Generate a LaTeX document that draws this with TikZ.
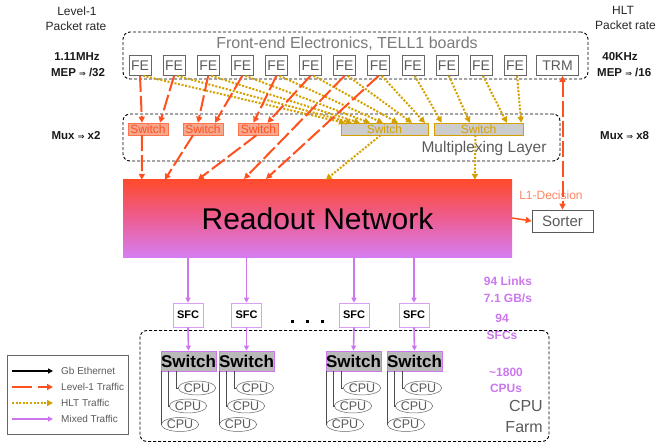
\documentclass[tikz,border=0pt]{standalone}
\usepackage{fontspec}
\setmainfont{Liberation Sans}
\newfontfamily\symf{DejaVu Sans}
\usetikzlibrary{arrows.meta,calc,shapes.geometric}
\definecolor{rd}{HTML}{FF5020}
\definecolor{yl}{HTML}{D4A000}
\definecolor{pu}{HTML}{CC77EE}
\definecolor{gtx}{HTML}{5A5A5A}
\definecolor{rsfill}{HTML}{F5A88E}
\newcommand\fsz[1]{\fontsize{#1}{#1}\selectfont}
\newcommand\arr{{\symf\fsz{8}⇒}}
\begin{document}
\begin{tikzpicture}[x=1pt,y=-1pt,
  lbl/.style={inner sep=0pt, font=\fsz{12}, text=black!85},
  blbl/.style={inner sep=0pt, font=\fsz{11.5}\bfseries, text=black!90},
  plbl/.style={inner sep=0pt, font=\fsz{12}\bfseries, text=pu},
  grp/.style={draw=black, line width=0.9pt, dash pattern=on 3pt off 2pt, rounded corners=7pt, inner sep=0pt},
  febox/.style={draw=gray!80!black, line width=0.6pt, minimum width=22pt, minimum height=20pt, inner sep=0pt, font=\fsz{14}, text=gtx},
  rsw/.style={draw=rd!80, fill=rsfill, text=rd, minimum width=40pt, minimum height=12pt, inner sep=0pt, font=\fsz{12}},
  ysw/.style={draw=yl, fill=gray!40, text=yl, minimum height=12pt, inner sep=0pt, font=\fsz{12}},
  bsw/.style={draw=pu, line width=0.8pt, fill=gray!55, minimum width=55pt, minimum height=20pt, inner sep=0pt, font=\fsz{17}\bfseries},
  sfcbox/.style={draw=pu!70, line width=0.6pt, minimum width=30pt, minimum height=24pt, inner sep=0pt, font=\fsz{11}\bfseries},
  cpu/.style={ellipse, draw=gray!80!black, line width=0.5pt, minimum width=32pt, minimum height=14pt, inner sep=0pt, font=\fsz{12.5}, text=gtx},
  redarr/.style={draw=rd, line width=2pt, dash pattern=on 16pt off 4pt, -{Triangle[length=6pt,width=6pt]}},
  ylarr/.style={draw=yl, line width=2pt, dash pattern=on 2pt off 1.6pt, -{Triangle[length=6pt,width=6pt]}},
  puarr/.style={draw=pu, line width=1.6pt, -{Triangle[length=5pt,width=5pt]}},
  cpul/.style={draw=gray!60!black, line width=0.5pt},
]
\useasboundingbox (0,0) rectangle (659,443);

% side labels
\node[lbl] (l1) at (77,11) {Level-1};
\node[lbl] (l2) at (76,26) {Packet rate};
\node[blbl] (l3) at (77,57) {1.11MHz};
\node[blbl] (l4) at (78,72) {MEP \arr\ /32};
\node[blbl] (l5) at (76,136) {Mux \arr\ x2};
\node[lbl] (r1) at (623,10) {HLT};
\node[lbl, anchor=west] (r2) at (595,25) {Packet rate};
\node[blbl] (r3) at (620,57) {40KHz};
\node[blbl, anchor=west] (r4) at (597,72) {MEP \arr\ /16};
\node[blbl, anchor=west] (r5) at (600,136) {Mux \arr\ x8};

% front-end
\node[grp, minimum width=465pt, minimum height=47pt] (fe) at (355.5,55.5) {};
\node[inner sep=0pt, font=\fsz{16}, text=gtx!80] (fet) at (347,44) {Front-end Electronics, TELL1 boards};
\foreach \i in {1,...,12} \node[febox] (fe\i) at ({140+(\i-1)*34.1},65.5) {FE};
\node[febox, minimum width=42pt] (trm) at (557.5,65.5) {TRM};

% multiplexing layer
\node[grp, minimum width=437pt, minimum height=47pt] (mux) at (341.5,137.5) {};
\node[inner sep=0pt, font=\fsz{15.5}, text=gtx] (muxt) at (484,148) {Multiplexing Layer};
\node[rsw] (rsw1) at (148,129) {Switch};
\node[rsw] (rsw2) at (203,129) {Switch};
\node[rsw] (rsw3) at (258.5,129) {Switch};
\node[ysw, minimum width=87pt] (ysw1) at (384.5,129) {Switch};
\node[ysw, minimum width=89pt] (ysw2) at (478.5,129) {Switch};

% readout network
\node[minimum width=389pt, minimum height=78pt, inner sep=0pt,
  top color={rgb,255:red,255;green,74;blue,46}, bottom color={rgb,255:red,214;green,126;blue,245},
  middle color={rgb,255:red,236;green,94;blue,148}, font=\fsz{30}] (ro) at (317.5,219) {Readout Network};
\node[draw=gray!70!black, line width=0.6pt, minimum width=61pt, minimum height=22pt, inner sep=0pt, font=\fsz{15}, text=gtx] (so) at (562.5,221) {Sorter};
\node[inner sep=0pt, font=\fsz{12}, text=rd!70] (l1d) at (551,195) {L1-Decision};

% yellow arrows FE -> HLT switches
\foreach \i/\t in {1/345,2/352,3/360,4/370,5/383,6/398,7/412,8/425} {
  \draw[ylarr] ($(fe\i.south)+(3,0)$) -- (\t,123);
}
\draw[ylarr] ($(fe9.south)+(2,0)$) -- ($(ysw2.north west)+(8,0)$);
\draw[ylarr] ($(fe10.south)+(2,0)$) -- ($(ysw2.north west)+(36,0)$);
\draw[ylarr] ($(fe11.south)+(2,0)$) -- ($(ysw2.north west)+(73,0)$);
\draw[ylarr] ($(fe12.south)+(2,0)$) -- ($(ysw2.north east)+(-2,0)$);

% red arrows FE -> L1 switches / readout
\draw[redarr] (fe1.south) -- ($(rsw1.north)+(-6,0)$);
\draw[redarr] (fe2.south) -- ($(rsw1.north)+(12,0)$);
\draw[redarr] (fe3.south) -- ($(rsw2.north)+(-5,0)$);
\draw[redarr] (fe4.south) -- ($(rsw2.north)+(12,0)$);
\draw[redarr] (fe5.south) -- ($(rsw3.north)+(-5,0)$);
\draw[redarr] (fe6.south) -- ($(rsw3.north)+(9,0)$);
\draw[redarr] (fe7.south) -- (244,179);
\draw[redarr] (fe8.south) -- (266,179);
\draw[redarr] ($(rsw1.south)+(-6,0)$) -- ($(ro.north west)+(19,0)$);
\draw[redarr] ($(rsw2.south)+(-10,0)$) -- ($(ro.north west)+(42,0)$);
\draw[redarr] ($(rsw3.south)+(-2,0)$) -- ($(ro.north west)+(75,0)$);
\draw[ylarr] ($(ysw1.south)+(-4,0)$) -- ($(ro.north west)+(203,0)$);
\draw[ylarr] ($(ysw2.south)+(-3,0)$) -- ($(ro.north west)+(352,0)$);

% TRM <-> sorter
\draw[redarr, {Triangle[length=6pt,width=6pt]}-{Triangle[length=6pt,width=6pt]}] (so.north |- trm.south) -- (so.north);
\draw[draw=rd, line width=1.5pt, -{Triangle[length=6pt,width=6pt]}] ($(ro.east)+(0,-1)$) -- (so.west);

% SFCs
\node[sfcbox] (sfc1) at (188,315) {SFC};
\node[sfcbox] (sfc2) at (246.5,315) {SFC};
\node[sfcbox] (sfc3) at (354,315) {SFC};
\node[sfcbox] (sfc4) at (414,315) {SFC};
\foreach \k in {1,...,4} \draw[puarr] (sfc\k.north |- ro.south) -- (sfc\k.north);
\foreach \x in {292,307,322} \fill (\x-1.5,320) rectangle +(3,3);

\node[plbl] (t1) at (508,281) {94 Links};
\node[plbl] (t2) at (508,298) {7.1 GB/s};
\node[plbl] (t3) at (502,318) {94};
\node[plbl] (t4) at (502,335) {SFCs};

% CPU farm
\node[grp, minimum width=409pt, minimum height=111pt] (farm) at (344.5,386) {};
\node[bsw] (bsw1) at (188.5,361) {Switch};
\node[bsw] (bsw2) at (246.5,361) {Switch};
\node[bsw] (bsw3) at (353.5,361) {Switch};
\node[bsw] (bsw4) at (414.5,361) {Switch};
\foreach \k/\c in {1/188.5,2/246.5,3/353.5,4/414.5} {
  \draw[puarr] (sfc\k.south) -- (bsw\k.north);
  \node[cpu] (cpu\k a) at (\c+8.5,388) {CPU};
  \node[cpu] (cpu\k b) at (\c-0.5,406) {CPU};
  \node[cpu] (cpu\k c) at (\c-8.5,424.5) {CPU};
  \draw[cpul] ($(bsw\k.south west)+(16,0)$) |- (cpu\k a.west);
  \draw[cpul] ($(bsw\k.south west)+(8,0)$) |- (cpu\k b.west);
  \draw[cpul] ($(bsw\k.south west)+(0.5,0)$) |- (cpu\k c.west);
}
\node[plbl] (t5) at (506,372) {\textasciitilde1800};
\node[plbl] (t6) at (506,388) {CPUs};
\node[inner sep=0pt, font=\fsz{16}, text=gtx, anchor=east] (t7) at (543,406) {CPU};
\node[inner sep=0pt, font=\fsz{16}, text=gtx, anchor=east] (t8) at (543,427) {Farm};

% legend
\node[draw=gray!80!black, line width=0.6pt, minimum width=121pt, minimum height=79pt, inner sep=0pt] (leg) at (67.5,394.5) {};
\coordinate (a1) at (12,371); \coordinate (b1) at (53,371);
\coordinate (a2) at (12,387); \coordinate (b2) at (53,387);
\coordinate (a3) at (12,403); \coordinate (b3) at (53,403);
\coordinate (a4) at (12,419); \coordinate (b4) at (53,419);
\draw[black, line width=1.6pt, -{Triangle[length=5pt,width=5pt]}] (a1) -- (b1);
\draw[redarr, dash pattern=on 20pt off 6pt, line width=1.8pt] (a2) -- (b2);
\draw[ylarr, line width=1.8pt] (a3) -- (b3);
\draw[puarr] (a4) -- (b4);
\node[inner sep=0pt, anchor=west, font=\fsz{10}, text=gtx] (g1) at (61,371) {Gb Ethernet};
\node[inner sep=0pt, anchor=west, font=\fsz{10}, text=gtx] (g2) at (61,387) {Level-1 Traffic};
\node[inner sep=0pt, anchor=west, font=\fsz{10}, text=gtx] (g3) at (61,403) {HLT Traffic};
\node[inner sep=0pt, anchor=west, font=\fsz{10}, text=gtx] (g4) at (61,419) {Mixed Traffic};
\end{tikzpicture}
\end{document}
